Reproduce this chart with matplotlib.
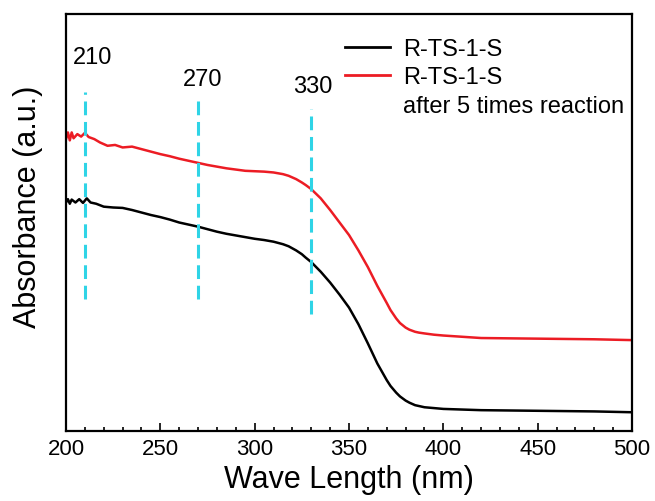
import matplotlib
matplotlib.use("Agg")
import matplotlib.pyplot as plt
from matplotlib.lines import Line2D

plt.rcParams['font.family'] = ['Liberation Sans', 'DejaVu Sans']

# --- data (arbitrary absorbance units) ---
red_x = [200, 201, 202, 203, 204, 206, 208, 210, 212, 215, 218, 222, 226, 230, 235,
         240, 245, 250, 255, 260, 265, 270, 275, 280, 285, 290, 295, 300, 305, 310,
         315, 318, 322, 325, 327, 330, 335, 340, 345, 350, 355, 360, 365, 370, 372,
         375, 377, 380, 382, 385, 387, 390, 395, 400, 410, 420, 440, 460, 480, 500]
red_y = [0.700, 0.716, 0.697, 0.716, 0.702, 0.712, 0.706, 0.715, 0.705, 0.700, 0.692,
         0.684, 0.686, 0.680, 0.682, 0.676, 0.670, 0.664, 0.659, 0.653, 0.648, 0.643,
         0.638, 0.634, 0.630, 0.627, 0.624, 0.623, 0.622, 0.620, 0.616, 0.612, 0.604,
         0.596, 0.590, 0.580, 0.558, 0.530, 0.500, 0.470, 0.433, 0.393, 0.348, 0.307,
         0.290, 0.270, 0.259, 0.248, 0.243, 0.238, 0.236, 0.234, 0.231, 0.229, 0.226,
         0.223, 0.222, 0.221, 0.220, 0.218]

black_x = [200, 201, 202, 203, 205, 207, 209, 211, 213, 216, 220, 225, 230, 235, 240,
           245, 250, 255, 260, 265, 270, 275, 280, 285, 290, 295, 300, 305, 310, 315,
           318, 322, 325, 327, 330, 335, 340, 345, 350, 355, 360, 365, 370, 372, 375,
           377, 380, 382, 385, 387, 390, 395, 400, 420, 440, 460, 480, 500]
black_y = [0.548, 0.556, 0.545, 0.555, 0.548, 0.556, 0.547, 0.558, 0.548, 0.545, 0.538,
           0.536, 0.535, 0.530, 0.524, 0.518, 0.513, 0.507, 0.500, 0.495, 0.490, 0.484,
           0.478, 0.473, 0.469, 0.465, 0.461, 0.458, 0.454, 0.448, 0.443, 0.433, 0.424,
           0.416, 0.405, 0.382, 0.356, 0.327, 0.296, 0.256, 0.210, 0.162, 0.122, 0.108,
           0.092, 0.083, 0.073, 0.068, 0.062, 0.060, 0.057, 0.055, 0.053, 0.050, 0.049,
           0.048, 0.047, 0.045]

marker_nm = [210, 270, 330]
marker_labels = ['210', '270', '330']
marker_ymin = [0.317, 0.317, 0.281]
marker_ymax = [0.813, 0.801, 0.772]
label_x = [203.7, 262.0, 320.3]
label_y = [0.897, 0.843, 0.827]

legend_labels = ['R-TS-1-S', 'R-TS-1-S', 'after 5 times reaction']

fig = plt.figure(figsize=(6.55, 5.02), dpi=100)
ax = fig.add_axes([0.1008, 0.1394, 0.8641, 0.8307])

red = '#ec1c24'
cyan = '#2fd4e6'

ax.plot(black_x, black_y, color='black', lw=1.8)
ax.plot(red_x, red_y, color=red, lw=1.8)

for xm, y0, y1 in zip(marker_nm, marker_ymin, marker_ymax):
    ax.plot([xm, xm], [y0, y1], color=cyan, lw=2.2, ls=(0, (4.5, 2.2)))

for xl, yl, t in zip(label_x, label_y, marker_labels):
    ax.text(xl, yl, t, fontsize=17, ha='left', va='center')

handles = [Line2D([], [], color='black', lw=2),
           Line2D([], [], color=red, lw=2),
           Line2D([], [], color='none', lw=0)]
ax.legend(handles, legend_labels, loc='upper left', bbox_to_anchor=(0.493, 0.943),
          frameon=False, fontsize=17, handlelength=1.9, handletextpad=0.55,
          labelspacing=0.28, borderpad=0, borderaxespad=0)

ax.set_xlim(200, 500)
ax.set_ylim(0, 1)
ax.set_xticks(range(200, 501, 50))
ax.set_xticks(range(200, 501, 10), minor=True)
ax.tick_params(axis='x', which='major', direction='in', length=6, width=1.2,
               labelsize=16, pad=5, top=False)
ax.tick_params(axis='x', which='minor', direction='in', length=3, width=1.2, top=False)
ax.set_yticks([])
for s in ax.spines.values():
    s.set_linewidth(1.6)

ax.set_xlabel('Wave Length (nm)', fontsize=22)
ax.set_ylabel('Absorbance (a.u.)', fontsize=22)
ax.xaxis.set_label_coords(0.5, -0.08)
ax.yaxis.set_label_coords(-0.04, 0.54)

fig.savefig('out.png', dpi=100)
